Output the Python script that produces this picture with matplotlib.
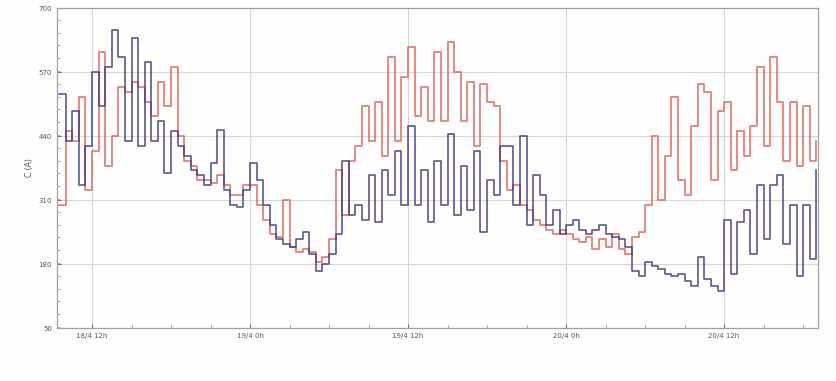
import numpy as np
import matplotlib
matplotlib.use("Agg")
import matplotlib.pyplot as plt
from matplotlib.ticker import MultipleLocator

# hours counted from 18/4 00h, one reading every 30 min
t_start, t_step = 9.5, 0.5

blue = [525, 430, 490, 340, 420, 570, 500, 580, 655, 600,
        430, 640, 420, 590, 430, 470, 365, 450, 420, 400,
        370, 360, 340, 385, 452, 330, 300, 295, 330, 385,
        350, 300, 260, 230, 220, 215, 230, 245, 200, 165,
        180, 200, 240, 390, 280, 300, 270, 360, 265, 370,
        320, 410, 300, 460, 300, 370, 265, 390, 300, 445,
        280, 380, 290, 410, 245, 350, 320, 420, 420, 300,
        440, 260, 360, 320, 260, 290, 240, 260, 270, 250,
        240, 250, 260, 240, 235, 230, 215, 165, 155, 185,
        175, 170, 160, 155, 160, 145, 135, 195, 150, 135,
        125, 270, 160, 265, 290, 200, 340, 230, 340, 360,
        220, 300, 155, 300, 190, 370]

red = [300, 450, 430, 520, 330, 410, 610, 380, 440, 540,
       530, 550, 540, 510, 480, 550, 500, 580, 440, 390,
       380, 350, 350, 345, 360, 340, 320, 320, 340, 340,
       300, 270, 240, 235, 310, 215, 205, 210, 205, 185,
       195, 230, 370, 280, 390, 420, 500, 430, 510, 400,
       600, 430, 560, 620, 480, 540, 470, 610, 470, 630,
       570, 470, 550, 420, 545, 510, 500, 390, 330, 340,
       300, 290, 270, 260, 250, 240, 250, 240, 230, 225,
       235, 210, 230, 215, 240, 210, 200, 235, 245, 300,
       440, 310, 400, 520, 350, 320, 460, 545, 530, 350,
       490, 510, 370, 450, 400, 460, 580, 420, 600, 510,
       390, 510, 380, 500, 390, 430]

tick_pos = [12, 24, 36, 48, 60]
tick_labels = ["18/4 12h", "19/4 0h", "19/4 12h", "20/4 0h", "20/4 12h"]
y_ticks = [50, 180, 310, 440, 570, 700]

t = t_start + t_step * np.arange(len(blue))

fig = plt.figure(figsize=(8.36, 3.81), dpi=100, facecolor="#fdfdfb")
ax = fig.add_axes([0.068, 0.139, 0.910, 0.840])
ax.set_facecolor("#fefefe")

ax.step(t, red, where="post", color="#e06a60", lw=1.3, alpha=0.85, zorder=3)
ax.step(t, blue, where="post", color="#3d3a7d", lw=1.2, alpha=0.85, zorder=4)

ax.set_xlim(9.33, 67.1)
ax.set_ylim(50, 700)
ax.set_xticks(tick_pos)
ax.set_xticklabels(tick_labels)
ax.xaxis.set_minor_locator(MultipleLocator(3))
ax.set_yticks(y_ticks)
ax.yaxis.set_minor_locator(MultipleLocator(26))
ax.tick_params(axis="both", which="major", labelsize=5, colors="#555555",
               length=3, direction="in", width=0.6)
ax.tick_params(axis="both", which="minor", length=2, direction="in",
               width=0.5, colors="#777777")
ax.set_ylabel("C (A)", fontsize=5.5, color="#555555", labelpad=3)

ax.grid(True, which="major", color="#d6d6d6", lw=0.8)
for s in ax.spines.values():
    s.set_color("#a0a0a0")
    s.set_linewidth(0.9)

fig.savefig("out.png", dpi=100, facecolor=fig.get_facecolor())
